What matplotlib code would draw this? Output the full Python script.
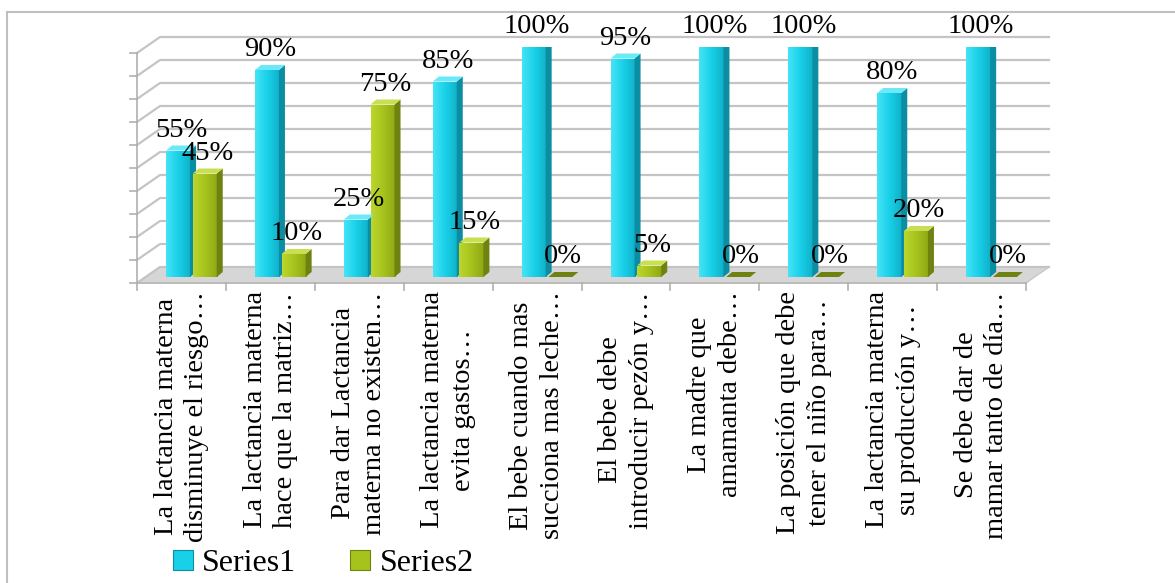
import numpy as np
import matplotlib.pyplot as plt
from matplotlib.patches import Polygon, Rectangle
from matplotlib.colors import LinearSegmentedColormap

categories = [
    'La lactancia materna\ndisminuye el riesgo…',
    'La lactancia materna\nhace que la matriz…',
    'Para dar Lactancia\nmaterna no existen…',
    'La lactancia materna\nevita gastos…',
    'El bebe cuando mas\nsucciona mas leche…',
    'El bebe debe\nintroducir pezón y…',
    'La madre que\namamanta debe…',
    'La posición que debe\ntener el niño para…',
    'La lactancia materna\nsu producción y…',
    'Se debe dar de\nmamar tanto de día…',
]
series1 = [0.55, 0.90, 0.25, 0.85, 1.00, 0.95, 1.00, 1.00, 0.80, 1.00]
series2 = [0.45, 0.10, 0.75, 0.15, 0.00, 0.05, 0.00, 0.00, 0.20, 0.00]
series_names = ['Series1', 'Series2']

W, H = 1175, 583
SERIF = ['Liberation Serif', 'DejaVu Serif']

# pixel -> data conversions for the fake 3d depth
PX_X = 1 / 88.9
PX_Y = 1 / 230.0
DDX, DDY = 6 * PX_X, 5 * PX_Y          # bar depth
BX, BY = 13.5 * PX_X, 10 * PX_Y        # back wall offset
FX, FY = -9.5 * PX_X, -6 * PX_Y        # front plane offset

styles = [
    dict(grad=['#45e4f6', '#19d0e9', '#10b0c8'], side='#0c8ea2', top='#6ae9f8'),
    dict(grad=['#bcd62c', '#a6c31d', '#8ea714'], side='#6d8210', top='#c9de50'),
]


def draw_bar(ax, x0, w, h, st):
    front = Rectangle((x0, 0), w, h, facecolor='none', edgecolor='none', zorder=4)
    ax.add_patch(front)
    cmap = LinearSegmentedColormap.from_list('g', st['grad'])
    grad = np.linspace(0, 1, 64).reshape(1, -1)
    if h > 0:
        im = ax.imshow(grad, cmap=cmap, extent=[x0, x0 + w, 0, h],
                       aspect='auto', zorder=4, interpolation='bilinear')
        im.set_clip_path(front)
        side = Polygon([(x0 + w, 0), (x0 + w, h), (x0 + w + DDX, h + DDY),
                        (x0 + w + DDX, DDY)], closed=True,
                       facecolor=st['side'], edgecolor='none', zorder=4)
        ax.add_patch(side)
    top = Polygon([(x0, h), (x0 + w, h), (x0 + w + DDX, h + DDY), (x0 + DDX, h + DDY)],
                  closed=True, facecolor=st['top'] if h > 0 else st['side'],
                  edgecolor='none', zorder=5)
    ax.add_patch(top)


def main():
    fig = plt.figure(figsize=(W / 100, H / 100), dpi=100)
    ax = fig.add_axes([146.5 / W, (H - 277) / H, 889 / W, 230 / H])
    ax.set_xlim(-0.5, 9.5)
    ax.set_ylim(0, 1)
    ax.set_autoscale_on(False)
    ax.axis('off')

    left, right = -0.5, 9.5
    # floor
    floor = Polygon([(left + FX, FY), (right + FX, FY), (right + BX, BY), (left + BX, BY)],
                    closed=True, facecolor='#d6d6d6', edgecolor='#c8c8c8', lw=1,
                    zorder=1, clip_on=False)
    ax.add_patch(floor)
    # back wall gridlines with the slanted left side
    for k in range(11):
        y = k / 10
        ax.plot([left + FX, left + BX, right + BX], [y + FY, y + BY, y + BY],
                color='#c4c4c4', lw=1.6, zorder=2, clip_on=False)
        ax.plot([left + FX - 7 * PX_X, left + FX], [y + FY, y + FY],
                color='#b0b0b0', lw=1.2, zorder=2, clip_on=False)
    ax.plot([left + FX, left + FX], [FY, 1 + FY], color='#b0b0b0', lw=1.2,
            zorder=2, clip_on=False)
    # front floor edge and category ticks
    ax.plot([left + FX, right + FX], [FY, FY], color='#b8b8b8', lw=1.2,
            zorder=2, clip_on=False)
    for i in range(len(categories) + 1):
        xb = i - 0.5 + FX
        ax.plot([xb, xb], [FY, FY - 7 * PX_Y], color='#b0b0b0', lw=1.2,
                zorder=2, clip_on=False)

    w = 0.27
    for s, vals in enumerate([series1, series2]):
        for i, v in enumerate(vals):
            x0 = i - 0.28 if s == 0 else i + 0.02
            draw_bar(ax, x0, w, v, styles[s])
            ax.annotate(f'{round(v * 100)}%', (x0 + w / 2 + DDX / 2, v + DDY),
                        xytext=(0, 2), textcoords='offset points',
                        ha='center', va='bottom', fontsize=20.5, family=SERIF,
                        zorder=6, annotation_clip=False)

    for i, lab in enumerate(categories):
        ax.annotate(lab, (i + FX, FY), xytext=(0, -6), textcoords='offset points',
                    rotation=90, ha='center', va='top', multialignment='center',
                    fontsize=20.5, family=SERIF, linespacing=1.3,
                    annotation_clip=False)

    handles = [Rectangle((0, 0), 1, 1, facecolor=styles[s]['grad'][1],
                         edgecolor=styles[s]['side'], lw=0.8) for s in range(2)]
    fig.legend(handles, series_names, loc='lower left',
               bbox_to_anchor=(144 / W, -24 / H), ncol=2, frameon=False,
               prop={'family': SERIF, 'size': 23}, handlelength=0.62,
               handleheight=0.62, handletextpad=0.3, columnspacing=1.7)

    border = Rectangle((7 / W, -0.05), 1.2, 1.05 - 12 / H, transform=fig.transFigure,
                       facecolor='none', edgecolor='#c0c0c0', lw=1.5)
    fig.add_artist(border)

    fig.savefig('out.png', dpi=100)


if __name__ == '__main__':
    main()
